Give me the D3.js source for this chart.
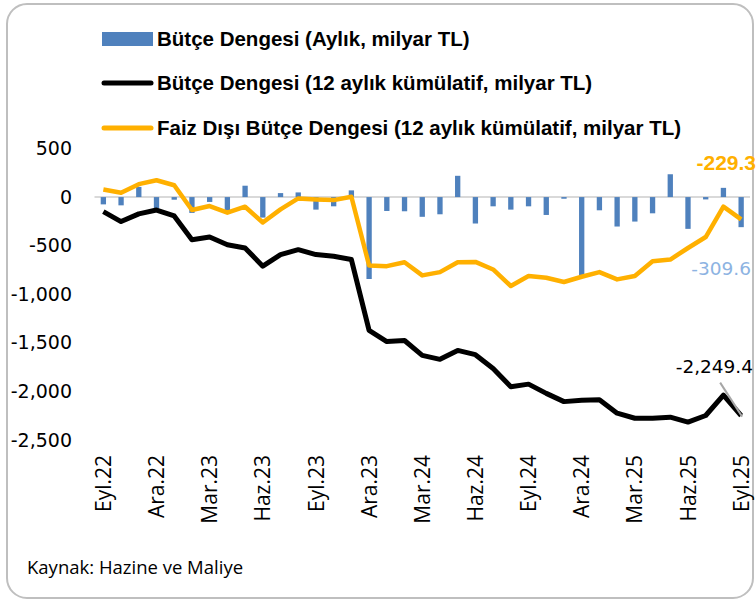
<!DOCTYPE html>
<html>
<head>
<meta charset="utf-8">
<title>Bütçe Dengesi</title>
<style>
  body { margin: 0; background: #fff; }
  svg { display: block; }
</style>
</head>
<body>
<svg width="756" height="601"></svg>
<script src="https://cdn.jsdelivr.net/npm/d3@7"></script>
<script>
// aylar (Eyl.22 - Eyl.25)
var months = ["Eyl.22","Eki.22","Kas.22","Ara.22","Oca.23","Şub.23","Mar.23","Nis.23","May.23","Haz.23","Tem.23","Ağu.23",
  "Eyl.23","Eki.23","Kas.23","Ara.23","Oca.24","Şub.24","Mar.24","Nis.24","May.24","Haz.24","Tem.24","Ağu.24",
  "Eyl.24","Eki.24","Kas.24","Ara.24","Oca.25","Şub.25","Mar.25","Nis.25","May.25","Haz.25","Tem.25","Ağu.25","Eyl.25"];
var tickLabels = ["Eyl.22","Ara.22","Mar.23","Haz.23","Eyl.23","Ara.23","Mar.24","Haz.24","Eyl.24","Ara.24","Mar.25","Haz.25","Eyl.25"];
var yTicks = [500, 0, -500, -1000, -1500, -2000, -2500];

// aylık bütçe dengesi (milyar TL)
var monthly = [-75,-85,105,-118,-27,-163,-50,-136,117,-211,41,48,
  -129,-95,69,-843,-143,-146,-203,-177,219,-272,-95,-129,
  -95,-184,-17,-813,-136,-303,-252,-167,235,-327,-24,95,-309.6];
// 12 aylık kümülatif bütçe dengesi
var cumulative = [-150,-252,-173,-133,-194,-439,-411,-490,-524,-711,-592,-541,
  -592,-609,-643,-1372,-1487,-1476,-1629,-1670,-1578,-1622,-1765,-1952,
  -1925,-2020,-2105,-2092,-2085,-2224,-2276,-2276,-2265,-2316,-2248,-2038,-2249.4];
// 12 aylık kümülatif faiz dışı denge
var primary = [78,44,133,173,122,-133,-92,-160,-99,-262,-126,-14,
  -24,-31,3,-704,-711,-670,-806,-772,-670,-667,-745,-915,
  -813,-830,-874,-820,-772,-847,-813,-660,-643,-524,-411,-99,-229.3];

var blue = "#4f81bd", orange = "#ffb000", black = "#000";

// eksi işareti için düz tire
var loc = d3.formatLocale({ decimal: ".", thousands: ",", grouping: [3], currency: ["", ""], minus: "-" });
var fmtInt = loc.format(",");
var fmt1 = loc.format(",.1f");

var svg = d3.select("svg");

// çerçeve
svg.append("rect")
  .attr("x", 7).attr("y", 4).attr("width", 746).attr("height", 594)
  .attr("rx", 20).attr("ry", 20)
  .attr("fill", "#fff").attr("stroke", "#bfbfbf").attr("stroke-width", 2);

var x = d3.scaleBand().domain(months).range([94.5, 750]).paddingInner(0.7).paddingOuter(0.35);
var xc = function(m) { return x(m) + x.bandwidth() / 2; };
var y = d3.scaleLinear().domain([-2500, 500]).range([440, 148.5]);

// y ekseni
var yAxis = svg.append("g")
  .attr("transform", "translate(72,0)")
  .call(d3.axisLeft(y).tickValues(yTicks).tickSize(0).tickPadding(0).tickFormat(fmtInt));
yAxis.select(".domain").remove();
yAxis.selectAll("text")
  .attr("font-family", "DejaVu Sans").attr("font-size", 19).attr("fill", "#000");

// sıfır çizgisi
svg.append("line")
  .attr("x1", 94.5).attr("x2", 750)
  .attr("y1", y(0)).attr("y2", y(0))
  .attr("stroke", "#d9d9d9").attr("stroke-width", 2);

// çubuklar
svg.selectAll("rect.bar")
  .data(monthly)
  .enter().append("rect")
  .attr("class", "bar")
  .attr("x", function(d, i) { return x(months[i]); })
  .attr("width", x.bandwidth())
  .attr("y", function(d) { return y(Math.max(0, d)); })
  .attr("height", function(d) { return Math.abs(y(d) - y(0)); })
  .attr("fill", blue);

// çizgiler
var line = d3.line()
  .x(function(d, i) { return xc(months[i]); })
  .y(function(d) { return y(d); });

svg.append("path").datum(cumulative)
  .attr("d", line).attr("fill", "none")
  .attr("stroke", black).attr("stroke-width", 5)
  .attr("stroke-linejoin", "round");

svg.append("path").datum(primary)
  .attr("d", line).attr("fill", "none")
  .attr("stroke", orange).attr("stroke-width", 4.5)
  .attr("stroke-linejoin", "round");

// x ekseni etiketleri
var xAxis = svg.append("g")
  .attr("transform", "translate(0,452)")
  .call(d3.axisBottom(x).tickValues(tickLabels).tickSize(0).tickPadding(0));
xAxis.select(".domain").remove();
xAxis.selectAll("text")
  .attr("font-family", "Open Sans").attr("font-size", 21).attr("fill", "#000")
  .attr("transform", "rotate(-90)")
  .attr("text-anchor", "end")
  .attr("x", -3).attr("y", 0).attr("dy", "0.36em");

// son değer etiketleri
var last = months.length - 1;
var lx = xc(months[last]);
var ly = y(cumulative[last]);

svg.append("line")
  .attr("x1", lx - 21).attr("y1", ly - 33)
  .attr("x2", lx + 1).attr("y2", ly + 1)
  .attr("stroke", "#a6a6a6").attr("stroke-width", 2);

svg.append("text")
  .attr("x", 756).attr("y", y(primary[last]) - 57).attr("dy", "0.35em")
  .attr("text-anchor", "end")
  .attr("font-family", "Liberation Sans").attr("font-weight", "bold").attr("font-size", 21)
  .attr("fill", orange)
  .text(fmt1(primary[last]));

svg.append("text")
  .attr("x", 751).attr("y", y(monthly[last]) + 41).attr("dy", "0.35em")
  .attr("text-anchor", "end")
  .attr("font-family", "DejaVu Sans").attr("font-size", 18.5)
  .attr("fill", "#8db3e2")
  .text(fmt1(monthly[last]));

svg.append("text")
  .attr("x", 753).attr("y", ly - 49).attr("dy", "0.35em")
  .attr("text-anchor", "end")
  .attr("font-family", "DejaVu Sans").attr("font-size", 18.5)
  .attr("fill", "#000")
  .text(fmt1(cumulative[last]));

// lejant
var legend = [
  { name: "Bütçe Dengesi (Aylık, milyar TL)", type: "bar", color: blue, y: 39 },
  { name: "Bütçe Dengesi (12 aylık kümülatif, milyar TL)", type: "line", color: black, y: 83 },
  { name: "Faiz Dışı Bütçe Dengesi (12 aylık kümülatif, milyar TL)", type: "line", color: orange, y: 128 }
];
var lg = svg.selectAll("g.legend").data(legend).enter().append("g").attr("class", "legend");
lg.filter(function(d) { return d.type === "bar"; }).append("rect")
  .attr("x", 102).attr("y", function(d) { return d.y - 7; })
  .attr("width", 51).attr("height", 14).attr("fill", function(d) { return d.color; });
lg.filter(function(d) { return d.type === "line"; }).append("line")
  .attr("x1", 104).attr("x2", 151)
  .attr("y1", function(d) { return d.y; }).attr("y2", function(d) { return d.y; })
  .attr("stroke", function(d) { return d.color; })
  .attr("stroke-width", 5).attr("stroke-linecap", "round");
lg.append("text")
  .attr("x", 157).attr("y", function(d) { return d.y; }).attr("dy", "0.35em")
  .attr("font-family", "Liberation Sans").attr("font-weight", "bold").attr("font-size", 20.5)
  .attr("textLength", null)
  .text(function(d) { return d.name; });

// kaynak
svg.append("text")
  .attr("x", 27).attr("y", 568).attr("dy", "0.35em")
  .attr("font-family", "Open Sans").attr("font-size", 18.5)
  .text("Kaynak: Hazine ve Maliye");
</script>
</body>
</html>
